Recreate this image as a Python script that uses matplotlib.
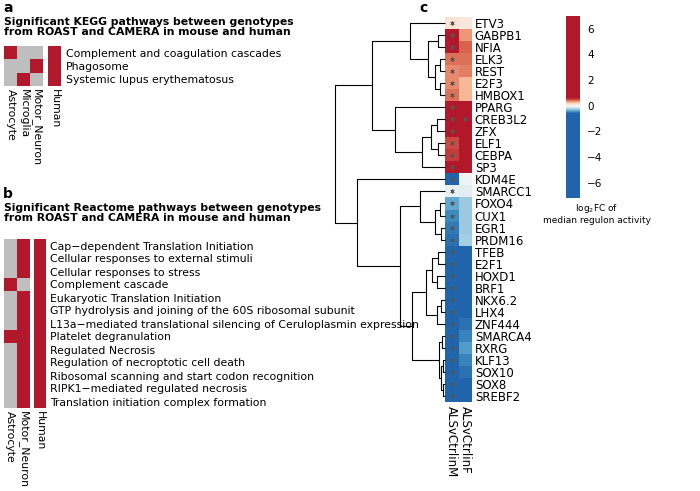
import numpy as np
import matplotlib
matplotlib.use("Agg")
import matplotlib.pyplot as plt
from matplotlib.colors import ListedColormap, Normalize
from matplotlib.cm import ScalarMappable

plt.rcParams['font.family'] = ['DejaVu Sans']

## Panel a: KEGG pathways
kegg_pathways = ["Complement and coagulation cascades", "Phagosome",
                 "Systemic lupus erythematosus"]
kegg_celltypes = ["Astrocyte", "Microglia", "Motor_Neuron"]
kegg_mouse = [[1, 0, 0],
              [0, 0, 1],
              [0, 1, 0]]
kegg_human = [1, 1, 1]

## Panel b: Reactome pathways
reactome_pathways = ["Cap\u2212dependent Translation Initiation",
                     "Cellular responses to external stimuli",
                     "Cellular responses to stress",
                     "Complement cascade",
                     "Eukaryotic Translation Initiation",
                     "GTP hydrolysis and joining of the 60S ribosomal subunit",
                     "L13a\u2212mediated translational silencing of Ceruloplasmin expression",
                     "Platelet degranulation",
                     "Regulated Necrosis",
                     "Regulation of necroptotic cell death",
                     "Ribosomal scanning and start codon recognition",
                     "RIPK1\u2212mediated regulated necrosis",
                     "Translation initiation complex formation"]
reactome_celltypes = ["Astrocyte", "Motor_Neuron"]
reactome_mouse = [[0, 1], [0, 1], [0, 1], [1, 0], [0, 1], [0, 1], [0, 1],
                  [1, 1], [0, 1], [0, 1], [0, 1], [0, 1], [0, 1]]
reactome_human = [1, 1, 1, 1, 1, 1, 1, 1, 1, 1, 1, 1, 1]

## Panel c: regulon activity
regulons = ["ETV3", "GABPB1", "NFIA", "ELK3", "REST", "E2F3", "HMBOX1",
            "PPARG", "CREB3L2", "ZFX", "ELF1", "CEBPA", "SP3", "KDM4E",
            "SMARCC1", "FOXO4", "CUX1", "EGR1", "PRDM16", "TFEB", "E2F1",
            "HOXD1", "BRF1", "NKX6.2", "LHX4", "ZNF444", "SMARCA4", "RXRG",
            "KLF13", "SOX10", "SOX8", "SREBF2"]
contrasts = ["ALSvCtrlinM", "ALSvCtrlinF"]
lfc_m = [0.10, 1.5, 1.3, 0.40, 0.35, 0.35, 0.42, 2.0, 2.2, 1.2, 0.50, 0.52,
         1.8, -1.2, -0.06, -0.38, -0.48, -0.52, -0.55, -2.0, -1.8, -2.5,
         -2.2, -3.0, -2.8, -3.5, -4.0, -4.5, -5.0, -7.0, -6.0, -5.5]
lfc_f = [0.08, 0.33, 0.45, 0.40, 0.38, 0.25, 0.25, 1.8, 6.8, 1.6, 1.4, 1.2,
         2.5, -0.03, -0.10, -0.28, -0.28, -0.27, -0.25, -1.5, -1.6, -1.8,
         -1.5, -2.0, -1.7, -0.55, -0.50, -0.42, -0.50, -0.55, -0.70, -0.75]
sig_m = [1] * 32
sig_f = [0, 0, 0, 0, 0, 0, 0, 0, 1, 0, 0, 0, 0, 0, 0, 0, 0, 0, 0, 0, 0, 0,
         0, 0, 0, 0, 0, 0, 0, 0, 0, 0]

# dendrogram of regulons: (left, right, height)
top_tree = (("ETV3", (("GABPB1", "NFIA", 0.8),
                      (("ELK3", "REST", 0.6), ("E2F3", "HMBOX1", 0.6), 1.2), 2.0), 4.0),
            ("PPARG", ((("CREB3L2", "ZFX", 0.9), ("ELF1", "CEBPA", 0.8), 1.6),
                       "SP3", 2.6), 5.7),
            8.4)
bottom_tree = ("KDM4E",
               (("SMARCC1", (("FOXO4", "CUX1", 0.6), ("EGR1", "PRDM16", 0.5), 1.2), 2.9),
                (((("TFEB", "E2F1", 0.8), ("HOXD1", "BRF1", 0.9), 1.5),
                  (("NKX6.2", "LHX4", 0.5), "ZNF444", 0.9), 2.2),
                 (("SMARCA4", "RXRG", 0.4),
                  (("KLF13", "SOX10", 0.25), ("SOX8", "SREBF2", 0.25), 0.45), 0.7), 3.8),
                5.2),
               10.1)
regulon_tree = (top_tree, bottom_tree, 12.6)

RED = '#B2182B'
GREY = '#BEBEBE'
W, H = 700, 491

fig = plt.figure(figsize=(W / 100, H / 100), dpi=100)


def px_axes(x0, y0, x1, y1):
    return fig.add_axes([x0 / W, 1 - y1 / H, (x1 - x0) / W, (y1 - y0) / H])


sig_cmap = ListedColormap([GREY, RED])


def sig_heatmap(ax, mat, xlabels, ylabels=None, ypad=3):
    mat = np.array(mat)
    ax.pcolormesh(mat, cmap=sig_cmap, vmin=0, vmax=1, antialiased=False)
    ax.set_xlim(0, mat.shape[1])
    ax.set_ylim(mat.shape[0], 0)
    ax.set_xticks(np.arange(mat.shape[1]) + 0.5, xlabels, rotation=-90)
    if ylabels is not None:
        ax.yaxis.tick_right()
        ax.set_yticks(np.arange(mat.shape[0]) + 0.5, ylabels)
    else:
        ax.set_yticks([])
    ax.tick_params(length=0, labelsize=7.8)
    ax.tick_params(axis='x', pad=2.5)
    ax.tick_params(axis='y', pad=ypad)
    for s in ax.spines.values():
        s.set_visible(False)


# ---- panel a
fig.text(3 / W, 1 - 1 / H, "a", fontsize=10, fontweight='bold', va='top')
fig.text(4 / W, 1 - 17 / H,
         "Significant KEGG pathways between genotypes\nfrom ROAST and CAMERA in mouse and human",
         fontsize=7.8, fontweight='bold', va='top', linespacing=1.05)
ax = px_axes(4, 46, 43, 86)
sig_heatmap(ax, kegg_mouse, kegg_celltypes)
ax = px_axes(48, 46, 61, 86)
sig_heatmap(ax, np.array(kegg_human)[:, None], ["Human"], kegg_pathways, ypad=3.5)

# ---- panel b
fig.text(3 / W, 1 - 187 / H, "b", fontsize=10, fontweight='bold', va='top')
fig.text(4 / W, 1 - 203 / H,
         "Significant Reactome pathways between genotypes\nfrom ROAST and CAMERA in mouse and human",
         fontsize=7.8, fontweight='bold', va='top', linespacing=1.05)
ax = px_axes(4, 239, 29.5, 408)
sig_heatmap(ax, reactome_mouse, reactome_celltypes)
ax = px_axes(34, 239, 46, 408)
sig_heatmap(ax, np.array(reactome_human)[:, None], ["Human"], reactome_pathways, ypad=3)

# ---- panel c
fig.text(419 / W, 1 - 1 / H, "c", fontsize=10, fontweight='bold', va='top')

vmin, vmax = -7.2, 7.0
grid = np.linspace(vmin, vmax, 512)
c_cmap = ListedColormap(plt.cm.RdBu_r(np.clip(0.5 + grid / 0.6 * 0.4, 0.1, 0.9)))
norm = Normalize(vmin, vmax)

vals = np.column_stack([lfc_m, lfc_f])
ax_h = px_axes(445, 17, 472, 402)
ax_h.pcolormesh(vals, cmap=c_cmap, norm=norm, antialiased=False)
ax_h.set_xlim(0, 2)
ax_h.set_ylim(len(regulons), 0)
ax_h.yaxis.tick_right()
ax_h.set_yticks(np.arange(len(regulons)) + 0.5, regulons)
ax_h.set_xticks([0.5, 1.5], contrasts, rotation=-90)
ax_h.tick_params(length=0, labelsize=8.5)
ax_h.tick_params(axis='y', pad=2)
ax_h.tick_params(axis='x', pad=3)
for s in ax_h.spines.values():
    s.set_visible(False)

sig = np.column_stack([sig_m, sig_f])
rows, cols = np.nonzero(sig)
ax_h.scatter(cols + 0.5, rows + 0.5, marker=(6, 2, 0), s=7, color='#555555',
             linewidths=0.5)

# dendrogram
ax_d = px_axes(335, 17, 445, 402)
leaf_pos = {name: i + 0.5 for i, name in enumerate(regulons)}


def draw_tree(node):
    if isinstance(node, str):
        return leaf_pos[node], 0.0
    left, right, h = node
    yl, hl = draw_tree(left)
    yr, hr = draw_tree(right)
    ax_d.plot([hl, h, h, hr], [yl, yl, yr, yr], color='black', lw=0.8,
              clip_on=False, solid_capstyle='butt')
    return (yl + yr) / 2, h


draw_tree(regulon_tree)
ax_d.set_xlim(regulon_tree[2], 0)
ax_d.set_ylim(len(regulons), 0)
ax_d.axis('off')

# colorbar
cax = px_axes(566, 16, 580, 198)
cb = fig.colorbar(ScalarMappable(norm=norm, cmap=c_cmap), cax=cax,
                  ticks=[-6, -4, -2, 0, 2, 4, 6])
cb.outline.set_visible(False)
cax.tick_params(length=0, pad=5, labelsize=7.5)
fig.text(597 / W, 1 - 202 / H, "log$_2$FC of\nmedian regulon activity",
         ha='center', va='top', fontsize=6.5, linespacing=1.1)

fig.savefig("out.png", dpi=100)
